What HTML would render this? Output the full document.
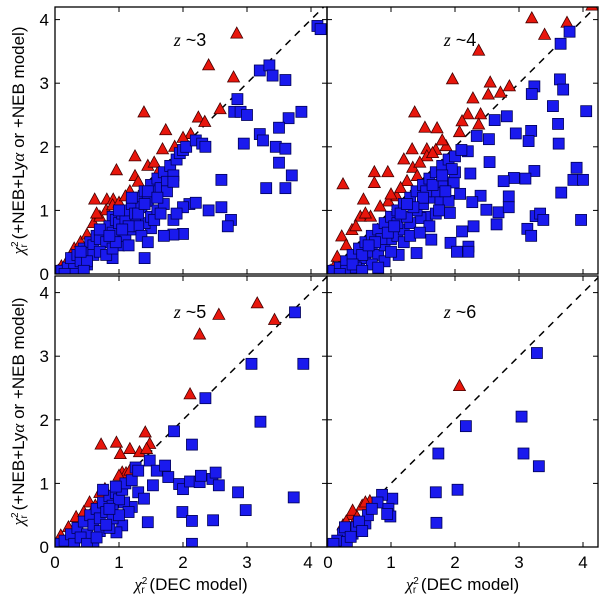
<!DOCTYPE html>
<html><head><meta charset="utf-8"><style>
body{margin:0;background:#fff}
svg{display:block;font-family:"Liberation Sans",sans-serif}
</style></head><body>
<svg id="c" width="600" height="603" viewBox="0 0 600 603" xmlns="http://www.w3.org/2000/svg"></svg>
<script>
const tickVals=[0,1,2,3,4];
const panelLabels=["3","4","5","6"];
const z3Red=[[2.84,3.78],[2.40,3.28],[2.79,3.09],[2.58,2.59],[1.39,2.54],[2.24,2.46],[2.34,2.39],[1.73,2.26],[2.12,2.2],[2.0,2.14],[1.25,1.85],[1.87,2.0],[1.68,1.96],[0.96,1.63],[1.25,1.54],[1.62,1.62],[0.62,1.17],[0.81,1.17],[0.91,1.17],[1.17,1.3],[0.1,0.12],[0.2,0.22],[0.3,0.4],[0.4,0.5],[0.5,0.62],[0.6,0.8],[0.7,0.9],[0.8,1.0],[0.9,1.08],[1.0,1.12],[1.1,1.22],[0.65,0.95],[0.25,0.3],[1.45,1.7],[1.55,1.75],[1.3,1.45],[0.05,0.05]];
const z3Blue=[[4.1,3.9],[4.15,3.85],[3.2,3.2],[3.35,3.28],[3.4,3.12],[3.6,3.05],[2.85,2.75],[2.8,2.55],[2.9,2.55],[3.0,2.5],[3.85,2.55],[3.65,2.45],[3.5,2.3],[3.2,2.2],[3.25,2.1],[3.45,2.0],[3.6,1.97],[2.95,2.05],[3.5,1.75],[3.7,1.55],[3.3,1.35],[3.6,1.35],[2.6,1.48],[2.4,1.0],[2.6,1.05],[2.75,0.85],[2.7,0.75],[2.1,1.1],[2.2,1.12],[2.0,1.05],[1.85,0.85],[1.9,0.95],[2.0,0.63],[1.85,0.62],[1.7,0.6],[1.5,0.72],[1.4,0.8],[1.25,0.88],[1.0,0.6],[0.9,0.25],[1.4,0.25],[0.9,0.9],[0.5,0.15],
[0.1,0.05],[0.2,0.1],[0.3,0.15],[0.25,0.25],[0.35,0.3],[0.4,0.2],[0.45,0.4],[0.5,0.35],[0.55,0.5],[0.6,0.45],[0.65,0.6],[0.7,0.55],[0.75,0.7],[0.8,0.5],[0.85,0.75],[0.9,0.65],[0.95,0.85],[1.0,0.8],[1.05,0.95],[1.1,0.85],[1.15,1.0],[1.2,1.1],[1.25,0.95],[1.3,1.2],[1.35,1.05],[1.4,1.3],[1.45,1.15],[1.5,1.4],[1.55,1.3],[1.6,1.5],[1.65,1.35],[1.7,1.6],[1.75,1.45],[1.8,1.7],[1.85,1.55],[1.9,1.8],[1.95,1.9],[2.0,1.95],[2.05,2.0],[2.2,2.1],[2.3,2.05],[2.35,2.0],[0.6,0.3],[0.7,0.35],[0.8,0.3],[1.0,0.45],[1.1,0.6],[1.2,0.7],[1.3,0.75],[1.5,0.9],[1.6,1.0],[1.7,1.1],[0.5,0.2],[0.3,0.0],[0.15,0.0],[0.45,0.05],[0.9,0.4],[1.0,1.0],[1.2,1.2],[0.7,0.7],[0.4,0.35],[0.95,0.5],[1.15,0.45],[1.35,0.6],[1.45,0.5],[1.55,0.85],[1.75,1.3],[1.85,1.45],[1.65,0.95],[1.3,0.95],[1.45,1.3],[1.6,1.2],[1.15,0.75],[0.85,0.6],[1.05,0.7],[1.4,1.1]];
const z4Red=[[3.2,4.02],[3.75,3.95],[4.14,4.22],[3.4,3.76],[2.37,3.51],[1.96,3.06],[2.55,3.01],[2.85,2.95],[2.71,2.85],[2.52,2.82],[2.28,2.76],[1.37,2.54],[2.2,2.51],[2.4,2.51],[1.53,2.3],[1.72,2.29],[2.11,2.4],[2.07,2.23],[2.37,2.35],[1.33,1.96],[1.56,1.96],[1.86,2.01],[1.2,1.8],[1.34,1.67],[0.74,1.6],[0.95,1.6],[0.74,1.43],[0.25,1.41],[1.56,1.85],[0.57,1.17],[0.96,1.14],[1.09,1.22],[1.25,1.46],[1.41,1.54],[0.52,0.9],[0.68,0.9],[0.39,0.69],[0.23,0.59],[0.16,0.27],[0.83,1.06],[0.3,0.45],[0.45,0.75],[0.6,0.95],[0.1,0.1],[0.05,0.05],[1.0,1.25],[1.15,1.35],[1.7,1.95],[1.45,1.75],[1.65,1.9],[1.8,2.1]];
const z4Blue=[[3.79,3.81],[3.65,3.62],[3.64,3.06],[3.69,2.9],[3.24,2.95],[3.2,2.83],[4.05,2.56],[3.53,2.64],[2.81,2.48],[2.62,2.42],[3.61,2.36],[2.95,2.21],[3.19,2.25],[3.15,2.09],[3.62,2.05],[2.53,2.12],[2.34,2.17],[2.2,1.93],[2.54,1.76],[3.9,1.67],[3.85,1.48],[4.0,1.48],[3.24,1.62],[3.1,1.5],[2.92,1.51],[2.76,1.46],[2.24,1.58],[1.98,1.44],[3.66,1.28],[2.84,1.22],[2.4,1.23],[2.08,1.26],[2.27,1.13],[2.49,1.01],[2.68,0.97],[2.84,1.05],[3.26,0.91],[3.33,0.95],[3.38,0.85],[3.97,0.85],[3.13,0.71],[3.19,0.6],[2.65,0.78],[2.29,0.75],[2.11,0.67],[1.92,0.96],[1.93,0.49],[2.03,0.35],[2.21,0.43],[2.21,0.35],[1.63,0.54],[1.4,0.33],[1.12,0.3],[1.77,1.17],[1.56,0.9],[1.46,0.88],
[0.1,0.05],[0.2,0.1],[0.3,0.2],[0.4,0.3],[0.5,0.4],[0.6,0.5],[0.7,0.6],[0.8,0.7],[0.9,0.8],[1.0,0.9],[1.1,1.0],[1.2,1.1],[1.3,1.2],[1.4,1.3],[1.5,1.4],[1.6,1.5],[1.7,1.6],[1.8,1.7],[1.9,1.8],[2.0,1.85],[2.1,1.95],[0.3,0.05],[0.5,0.15],[0.6,0.25],[0.7,0.35],[0.8,0.3],[0.9,0.45],[1.0,0.55],[1.1,0.6],[1.2,0.7],[1.3,0.8],[1.4,1.0],[1.5,1.1],[1.6,1.2],[1.7,1.3],[1.8,1.45],[0.45,0.1],[0.7,0.15],[0.9,0.2],[1.0,0.35],[1.2,0.5],[1.3,0.6],[1.1,0.8],[0.85,0.55],[1.6,0.75],[1.7,0.95],[1.9,1.15],[2.0,1.6],[1.75,1.0],[0.55,0.3],[0.95,0.65],[1.25,0.9],[1.45,0.65],[1.55,1.3],[1.85,1.3],[1.5,1.2],[1.65,1.4],[1.35,1.05],[1.15,0.95],[0.75,0.5],[1.05,0.75],[1.95,1.65],[1.8,1.55],[1.25,1.1],[0.65,0.45],[0.4,0.15],[0.2,0.0],[0.55,0.05],[0.8,0.1]];
const z5Red=[[3.16,3.83],[2.56,3.65],[3.43,3.57],[2.26,3.34],[2.11,2.4],[1.41,1.8],[0.96,1.64],[0.72,1.61],[1.48,1.62],[1.17,1.54],[1.02,1.46],[1.32,1.49],[1.43,1.54],[1.05,1.17],[1.11,1.16],[1.17,1.2],[0.78,0.91],[0.54,0.7],[0.63,0.65],[0.33,0.47],[0.21,0.31],[0.09,0.18],[0.45,0.55],[0.7,0.85],[1.0,1.12]];
const z5Blue=[[3.75,3.69],[3.88,2.88],[3.07,2.88],[2.35,2.34],[3.21,1.97],[1.86,1.82],[2.14,1.61],[1.48,1.36],[1.26,1.25],[1.59,1.2],[1.72,1.28],[1.77,1.1],[1.53,0.97],[1.94,0.99],[2.0,0.91],[2.11,1.03],[2.26,1.02],[2.28,1.12],[2.46,1.07],[2.51,1.17],[2.56,0.97],[2.86,0.86],[2.98,0.58],[1.99,0.55],[2.14,0.41],[2.47,0.42],[2.14,0.05],[3.73,0.78],[1.45,0.39],[1.3,0.86],[1.39,0.76],[1.05,0.34],[0.96,0.23],[1.2,0.63],[1.08,0.7],[0.6,0.08],
[0.05,0.05],[0.15,0.1],[0.25,0.2],[0.3,0.05],[0.35,0.3],[0.45,0.4],[0.5,0.2],[0.55,0.5],[0.6,0.35],[0.65,0.6],[0.7,0.45],[0.75,0.7],[0.8,0.55],[0.85,0.8],[0.9,0.65],[0.95,0.85],[1.0,0.75],[1.05,0.9],[1.1,1.0],[1.15,0.55],[1.2,1.05],[0.4,0.15],[0.7,0.25],[0.85,0.3],[0.9,0.45],[0.8,0.35],[0.5,0.05],[0.65,0.15],[1.0,0.5],[1.3,1.2],[0.75,0.9],[0.95,0.95],[0.85,0.6]];
const z6Red=[[2.07,2.53],[0.25,0.34],[0.37,0.5],[0.4,0.57],[0.55,0.65],[0.67,0.72],[0.47,0.47],[0.3,0.4],[0.6,0.7]];
const z6Blue=[[3.28,3.05],[2.17,1.9],[3.04,2.05],[1.74,1.47],[3.07,1.47],[3.31,1.27],[1.7,0.86],[2.04,0.9],[1.71,0.38],[1.02,0.76],[0.86,0.82],[0.79,0.7],[0.96,0.6],[0.99,0.48],[0.94,0.52],[0.6,0.37],[0.64,0.5],[0.25,0.21],[0.16,0.1],[0.31,0.08],[0.1,0.05],[0.4,0.21],[0.46,0.31],[0.28,0.31],[0.37,0.16],[0.5,0.4],[0.55,0.25],[0.7,0.6]];
const panels=[
 {x0:55,y0:274,top:7,right:327,red:z3Red,blue:z3Blue,lab:panelLabels[0],lx:190,ly:46,left:true,bottom:false},
 {x0:327,y0:274,top:7,right:598,red:z4Red,blue:z4Blue,lab:panelLabels[1],lx:460,ly:46,left:false,bottom:false},
 {x0:55,y0:547,top:276,right:327,red:z5Red,blue:z5Blue,lab:panelLabels[2],lx:190,ly:318,left:true,bottom:true},
 {x0:327,y0:547,top:276,right:598,red:z6Red,blue:z6Blue,lab:panelLabels[3],lx:460,ly:318,left:false,bottom:true}];
const UX=64, UY=63.6, NS="http://www.w3.org/2000/svg";
const svg=document.getElementById('c');
function mk(t,a,p){const e=document.createElementNS(NS,t);for(const k in a)e.setAttribute(k,a[k]);(p||svg).appendChild(e);return e;}
panels.forEach((P,i)=>{
 const sx=v=>P.x0+v*UX, sy=v=>P.y0-v*UY;
 const g=mk('g',{});
 
 
 const cp=mk('clipPath',{id:'cp'+i},g);
 mk('rect',{x:P.x0,y:P.top,width:P.right-P.x0,height:P.y0-P.top},cp);
 const pg=mk('g',{'clip-path':'url(#cp'+i+')'},g);
 const dl=mk('line',{x1:sx(0),y1:sy(0),x2:sx(4.3),y2:sy(4.3),stroke:'#000','stroke-width':1.5,'stroke-dasharray':'7,6'},pg);
 
 
 P.red.forEach(d=>{const x=sx(d[0]),y=sy(d[1]);
  const t=mk('polygon',{points:`${x},${y-6.5} ${x-6},${y+4.5} ${x+6},${y+4.5}`,fill:'#e8160c',stroke:'#400','stroke-width':0.8},pg);
  
  });
 P.blue.forEach(d=>{const x=sx(d[0]),y=sy(d[1]);
  const r=mk('rect',{x:x-5.5,y:y-5.5,width:11,height:11,fill:'#1a1aee',stroke:'#000055','stroke-width':0.8},pg);
  
  });
 const fr=mk('rect',{x:P.x0,y:P.top,width:P.right-P.x0,height:P.y0-P.top,fill:'none',stroke:'#000','stroke-width':1.3},g);
 
 
 tickVals.forEach(v=>{
  mk('line',{x1:sx(v),x2:sx(v),y1:P.y0,y2:P.y0-5,stroke:'#000'},g);
  mk('line',{x1:sx(v),x2:sx(v),y1:P.top,y2:P.top+5,stroke:'#000'},g);
  mk('line',{x1:P.x0,x2:P.x0+5,y1:sy(v),y2:sy(v),stroke:'#000'},g);
  mk('line',{x1:P.right,x2:P.right-5,y1:sy(v),y2:sy(v),stroke:'#000'},g);
  if(P.left){const t=mk('text',{x:P.x0-6,y:sy(v)+6,'text-anchor':'end','font-size':17},g);t.textContent=v;
   }
  if(P.bottom){const t=mk('text',{x:sx(v)+(v==4&&i==2?-3:0)+(v==0&&i==3?1:0),y:P.y0+21,'text-anchor':'middle','font-size':17},g);t.textContent=v;
   }
 });
 const lt=mk('text',{x:P.lx,y:P.ly,'text-anchor':'middle','font-size':18},g);
 lt.innerHTML='<tspan font-family="Liberation Serif" font-style="italic">z</tspan> ~'+P.lab;
 
 
 if(P.left){const yt=mk('text',{transform:`translate(24,${(P.top+P.y0)/2}) rotate(-90)`,'text-anchor':'middle','font-size':17},g);
  yt.innerHTML='<tspan font-family="Liberation Serif" font-style="italic">χ</tspan><tspan font-size="10" dy="-6">2</tspan><tspan font-size="10" dx="-6" dy="9">r</tspan><tspan dy="-3"> (+NEB+Ly</tspan><tspan font-family="Liberation Serif" font-style="italic">α</tspan> or +NEB model)';
  }
 if(P.bottom){const xt=mk('text',{x:(P.x0+P.right)/2,y:590,'text-anchor':'middle','font-size':17},g);
  xt.innerHTML='<tspan font-family="Liberation Serif" font-style="italic">χ</tspan><tspan font-size="10" dy="-6">2</tspan><tspan font-size="10" dx="-6" dy="9">r</tspan><tspan dy="-3"> (DEC model)</tspan>';
  }
});
</script>
</body></html>
